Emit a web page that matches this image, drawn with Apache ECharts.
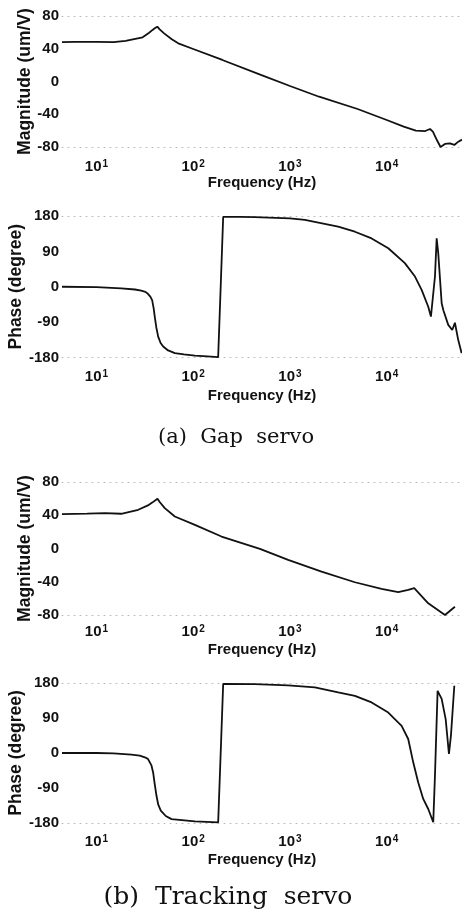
<!DOCTYPE html>
<html><head><meta charset="utf-8">
<script src="https://cdn.jsdelivr.net/npm/echarts@6/dist/echarts.min.js"></script>
<style>html,body{margin:0;padding:0;background:#fff}#c{width:462px;height:920px}</style>
</head><body><div id="c"></div>
<script>
// ---- data ----
const freqMin = 4.4, freqMax = 60000;
const xTickExponents = [1, 2, 3, 4];
const magTicks = [-80, -40, 0, 40, 80];
const phaseTicks = [-180, -90, 0, 90, 180];

// (a) Gap servo - magnitude
const gapMagFreq = [4.4, 6, 10, 15, 20, 30, 35, 38, 40, 42.5, 45, 50, 60, 70, 100, 200, 500, 1000, 2000, 5000, 10000, 15000, 20000, 25000, 28000, 30000, 33000, 36000, 40000, 45000, 50000, 55000, 60000];
const gapMagValue = [48, 48.3, 48.5, 48, 49.5, 54, 59.6, 63, 65, 67, 63.7, 58.8, 51.5, 46.6, 39.7, 26.3, 8, -5.5, -18.6, -33.6, -47, -55.2, -60, -60.5, -58, -61.3, -71.5, -80, -76.3, -75.5, -77.5, -73.5, -71];
// (a) Gap servo - phase
const gapPhaseFreq = [4.4, 10, 18, 25, 29, 32, 34, 36, 37.6, 39, 40, 41.5, 43.4, 46, 48.9, 55, 64.6, 80, 104, 140, 181, 185, 204, 300, 434, 1000, 1426, 3150, 4690, 6980, 10380, 15400, 19600, 22960, 26870, 28640, 31530, 32830, 34100, 36980, 38500, 43250, 47560, 50700, 54800, 59500];
const gapPhaseValue = [0, -1, -4, -7, -10, -13, -18, -25, -34, -55, -76, -103, -127, -143, -152, -162, -169, -172, -175, -177, -179, -179.5, 178, 178, 177, 174, 170, 153, 140, 123, 98, 60, 26, -8, -51, -76, 26, 123, 85, -42, -60, -97, -110, -91.5, -135, -169];
// (b) Tracking servo - magnitude
const trkMagFreq = [4.4, 8, 12.2, 18, 27, 34, 38, 42.7, 45, 50.8, 64.5, 104, 196, 489, 957, 2120, 4690, 8850, 13150, 16680, 19250, 26870, 40000, 50700];
const trkMagValue = [41.4, 42, 42.6, 41.8, 46.6, 51.8, 55.5, 59.9, 56, 48.6, 38.5, 28.5, 14.4, -0.4, -13.7, -27.8, -40.6, -48.6, -52.6, -49.9, -47.8, -65.9, -80, -70];
// (b) Tracking servo - phase
const trkPhaseFreq = [4.4, 10, 15, 23, 28, 31.6, 34, 35.6, 37, 38.5, 40, 41.7, 43.5, 46.2, 52, 59.7, 104, 181, 185, 204, 434, 957, 1810, 3150, 4690, 6980, 10380, 14260, 16680, 18790, 21170, 23850, 26870, 30270, 31530, 33570, 36980, 40680, 43980, 46110, 49980];
const trkPhaseValue = [0, 0, -1, -4, -7, -11, -15, -20, -32, -50, -80, -110, -133, -148, -162, -170, -176, -178.5, -179, 178, 177, 174, 169, 156, 147, 130, 104, 70, 36, -24, -76, -118, -144, -178, -58, 160, 139, 87, -2.5, 44.5, 173];

const captions = ['(a)  Gap  servo', '(b)  Tracking  servo'];

// ---- chart ----
const FONT = '"Liberation Sans", Arial, Helvetica, sans-serif';
const INK = '#111';
const pairs = (f, v) => f.map((x, i) => [x, v[i]]);

const grids = [
  {left: 62, width: 400, top: 16, height: 131},
  {left: 62, width: 400, top: 216, height: 141.5},
  {left: 62, width: 400, top: 482, height: 133},
  {left: 62, width: 400, top: 683, height: 140}
].map(g => Object.assign(g, {containLabel: false, outerBoundsMode: 'none'}));
const labelMargins = [12, 12, 9, 11];
const xNameGaps = [28, 31, 27, 29];
const yNames = ['Magnitude (um/V)', 'Phase (degree)', 'Magnitude (um/V)', 'Phase (degree)'];
const yNameGaps = [28, 37, 28, 37];

const frameLine = {show: true, onZero: false, lineStyle: {color: '#bbb', type: [1, 5], width: 1}};

function xLabel(v) {
  const e = Math.log10(v);
  const r = Math.round(e);
  if (Math.abs(e - r) > 1e-6 || xTickExponents.indexOf(r) < 0) return '';
  return '{b|10}{s|' + r + '}';
}

const xAxes = grids.map((g, i) => ({
  type: 'log', logBase: 10, gridIndex: i, min: freqMin, max: freqMax,
  name: 'Frequency (Hz)', nameLocation: 'middle', nameGap: xNameGaps[i],
  nameTextStyle: {fontFamily: FONT, fontWeight: 'bold', fontSize: 15, color: INK},
  axisLine: frameLine, axisTick: {show: false}, splitLine: {show: false}, minorTick: {show: false},
  axisLabel: {
    margin: labelMargins[i], showMinLabel: false, showMaxLabel: false, formatter: xLabel,
    rich: {
      b: {fontFamily: FONT, fontWeight: 'bold', fontSize: 15, color: INK},
      s: {fontFamily: FONT, fontWeight: 'bold', fontSize: 10, color: INK, verticalAlign: 'top', padding: [0, 0, 0, 1]}
    }
  }
}));
const topAxes = grids.map((g, i) => ({
  type: 'value', gridIndex: i, position: 'top', min: 0, max: 1,
  axisLine: frameLine, axisTick: {show: false}, axisLabel: {show: false}, splitLine: {show: false}
}));

const yAxes = grids.map((g, i) => {
  const ticks = (i % 2 === 0) ? magTicks : phaseTicks;
  return {
    type: 'value', gridIndex: i, min: ticks[0], max: ticks[ticks.length - 1],
    interval: ticks[1] - ticks[0],
    name: yNames[i], nameLocation: 'middle', nameGap: yNameGaps[i], nameMoveOverlap: false,
    nameTextStyle: {fontFamily: FONT, fontWeight: 'bold', fontSize: 17.5, color: INK},
    axisLine: {show: false, onZero: false}, axisTick: {show: false}, splitLine: {show: false},
    axisLabel: {margin: 3, fontFamily: FONT, fontWeight: 'bold', fontSize: 15, color: INK}
  };
});

const seriesData = [
  pairs(gapMagFreq, gapMagValue),
  pairs(gapPhaseFreq, gapPhaseValue),
  pairs(trkMagFreq, trkMagValue),
  pairs(trkPhaseFreq, trkPhaseValue)
];

const chart = echarts.init(document.getElementById('c'), null, {renderer: 'canvas'});
chart.setOption({
  backgroundColor: '#fff',
  animation: false,
  grid: grids,
  xAxis: xAxes.concat(topAxes),
  yAxis: yAxes,
  series: seriesData.map((d, i) => ({
    type: 'line', xAxisIndex: i, yAxisIndex: i, data: d,
    showSymbol: false, symbol: 'none', smooth: false,
    lineStyle: {color: INK, width: 1.8}
  })),
  graphic: [
    {type: 'text', x: 236, y: 438, style: {text: captions[0], font: '21px "DejaVu Serif", "Liberation Serif", serif', fill: INK, textAlign: 'center', textVerticalAlign: 'middle'}},
    {type: 'text', x: 228, y: 897, style: {text: captions[1], font: '25px "DejaVu Serif", "Liberation Serif", serif', fill: INK, textAlign: 'center', textVerticalAlign: 'middle'}}
  ]
});
</script>
</body></html>
